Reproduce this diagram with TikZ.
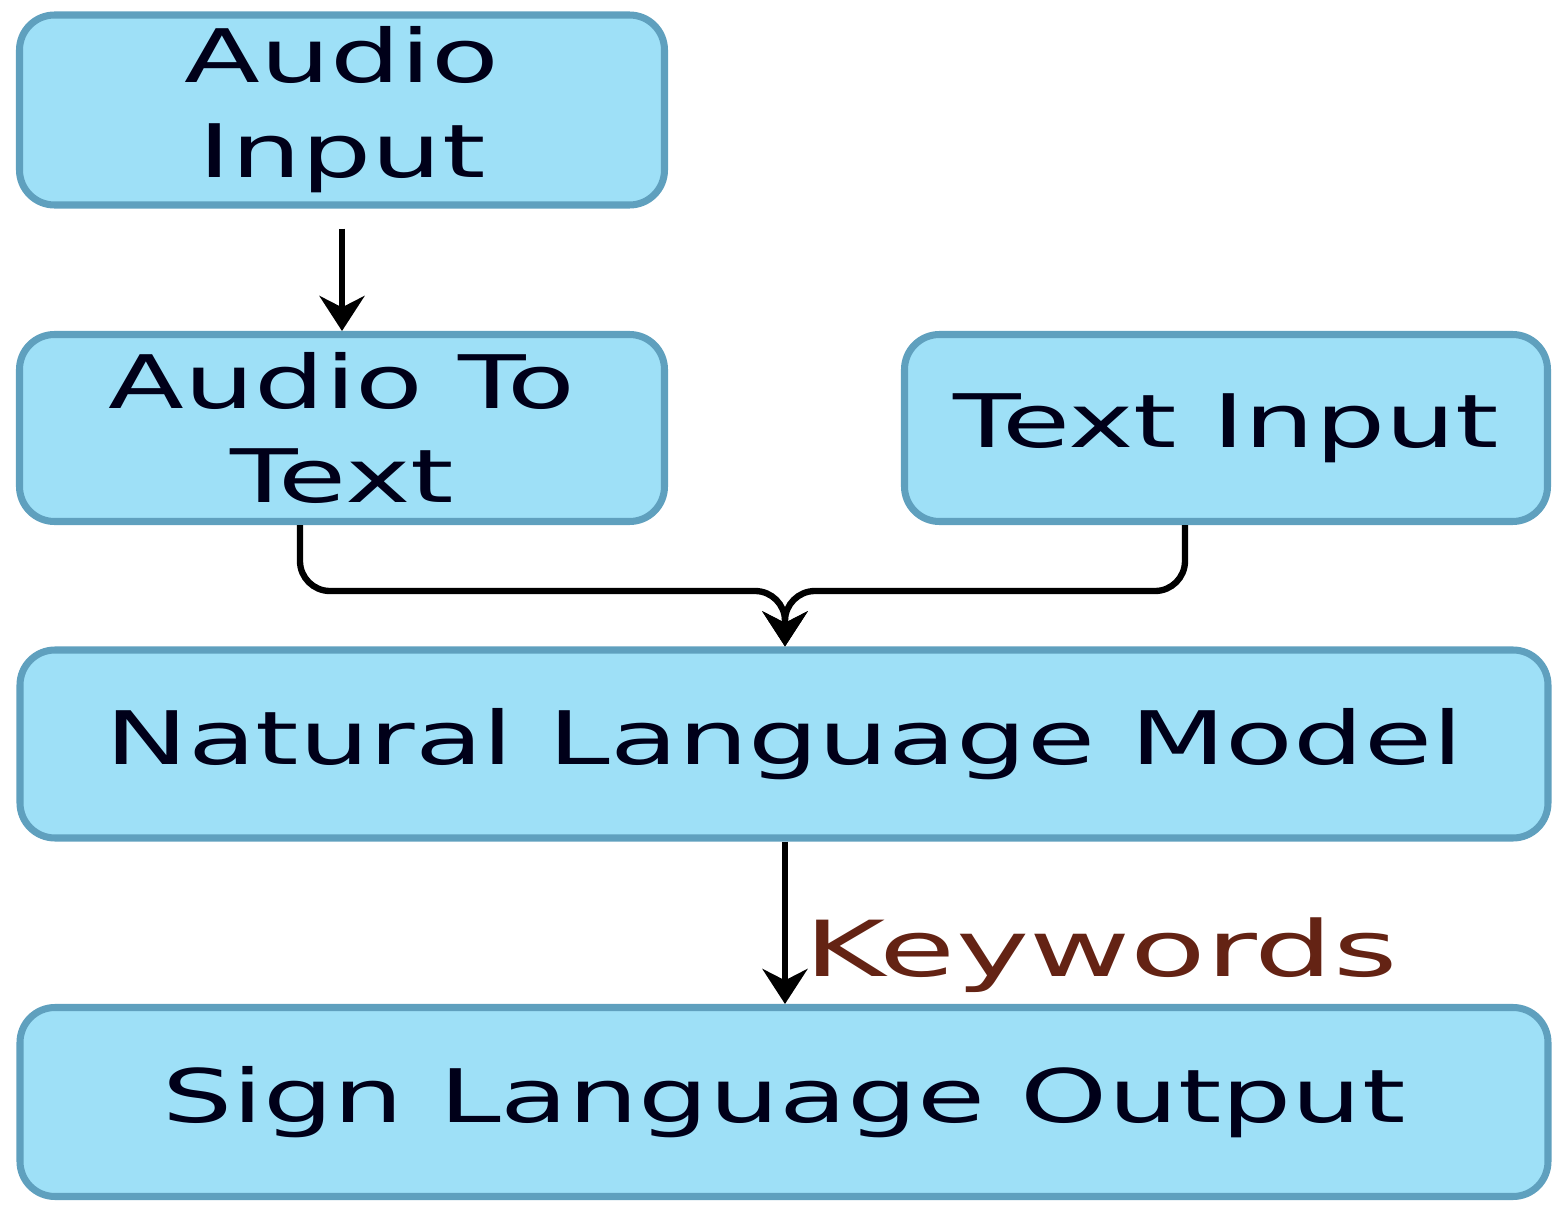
\documentclass[tikz,border=0pt]{standalone}
\usepackage{fontspec}
\setmainfont{DejaVu Sans}
\usetikzlibrary{arrows.meta}
\definecolor{boxfill}{RGB}{158,224,247}
\definecolor{boxline}{RGB}{95,160,190}
\definecolor{kwcolor}{RGB}{100,35,20}
\newcommand{\wide}[1]{\scalebox{1.5}[1]{#1}}
\tikzset{
  block/.style={draw=boxline, line width=2pt, fill=boxfill, rounded corners=0.35cm,
    align=center, font=\fontsize{21}{27}\selectfont, text=black!90!blue, inner sep=0pt},
  link/.style={line width=1.8pt, -{Stealth[length=0.35cm,width=0.45cm]}, rounded corners=0.3cm}
}
\begin{document}
\begin{tikzpicture}
\useasboundingbox (0,0) rectangle (15.63,12.11);
\node[block, minimum width=6.45cm, minimum height=1.9cm] (ain) at (3.42,11.01) {\wide{Audio}\\\wide{Input}};
\node[block, minimum width=6.45cm, minimum height=1.87cm] (att) at (3.42,7.83) {\wide{Audio To}\\\wide{Text}};
\node[block, minimum width=6.43cm, minimum height=1.87cm] (tin) at (12.26,7.83) {\wide{Text Input}};
\node[block, minimum width=15.28cm, minimum height=1.88cm] (nlm) at (7.84,4.67) {\wide{Natural Language Model}};
\node[block, minimum width=15.28cm, minimum height=1.89cm] (sign) at (7.84,1.09) {\wide{Sign Language Output}};
\coordinate (m) at (7.85,6.2);
% arrows
\draw[link] ([yshift=-0.2cm]ain.south) -- (att.north);
\draw[link] ([xshift=-0.42cm]att.south) |- (m) -- (m |- nlm.north);
\draw[link] ([xshift=-0.41cm]tin.south) |- (m) -- (m |- nlm.north);
\draw[link] (nlm.south -| m) -- node[right=0.05cm, pos=0.7, text=kwcolor, font=\fontsize{22}{28}\selectfont] {\scalebox{1.6}[1]{Keywords}} (sign.north -| m);
\end{tikzpicture}
\end{document}
